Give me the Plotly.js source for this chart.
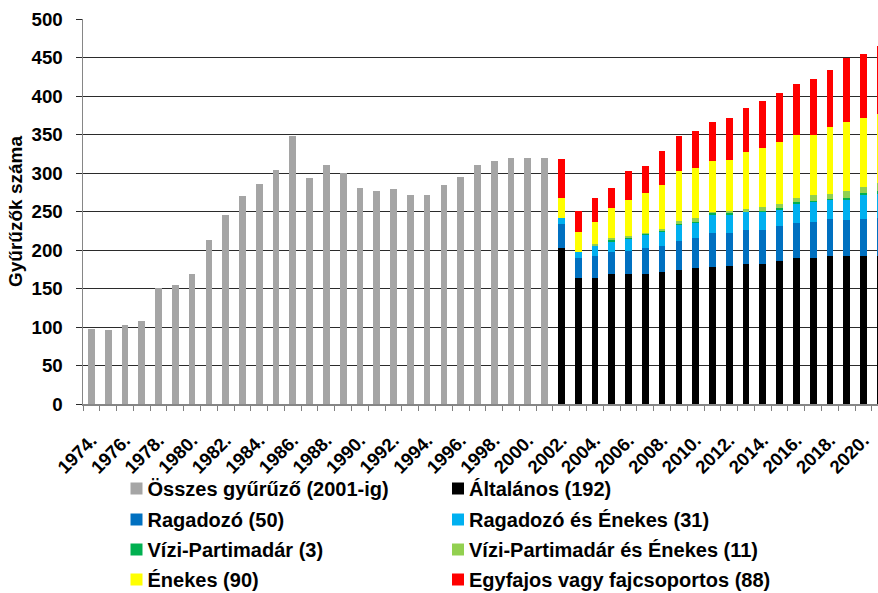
<!DOCTYPE html>
<html>
<head>
<meta charset="utf-8">
<script src="https://cdn.plot.ly/plotly-3.0.1.min.js"></script>
<style>html,body{margin:0;padding:0;background:#fff;}#chart{width:878px;height:593px;}</style>
</head>
<body>
<div id="chart"></div>
<script>
// Grey series: total ringers up to 2001
const yearsTotal = [1974,1975,1976,1977,1978,1979,1980,1981,1982,1983,1984,1985,1986,1987,1988,1989,1990,1991,1992,1993,1994,1995,1996,1997,1998,1999,2000,2001];
const totalRingers = [97,96,102,108,151,154,169,213,246,270,286,304,348,293,311,300,281,277,279,271,271,284,295,311,316,319,319,319];

// Stacked categories 2002-2021
const yearsCat = [2002,2003,2004,2005,2006,2007,2008,2009,2010,2011,2012,2013,2014,2015,2016,2017,2018,2019,2020,2021];
const altalanos      = [202,164,164,169,169,169,172,174,176,178,179,182,182,186,189,190,192,192,192,192];
const ragadozo       = [32,25,28,29,30,34,33,38,39,44,43,44,44,45,46,47,48,47,48,50];
const ragadozoEnekes = [8,9,13,13,15,16,18,20,20,24,24,23,24,21,25,25,25,26,31,31];
const vizi           = [0,0,0,2,1,2,2,2,1,2,2,1,1,2,2,2,1,3,3,3];
const viziEnekes     = [0,0,3,2,3,1,2,4,6,2,3,3,5,6,5,7,7,8,8,11];
const enekes         = [26,25,29,39,47,52,57,64,65,66,66,74,77,80,83,79,87,90,89,90];
const egyfajos       = [50,28,30,26,37,35,44,46,47,50,54,57,60,64,65,72,74,83,84,88];

// Series names
const names = [
  'Összes gyűrűző (2001-ig)',
  'Általános (192)',
  'Ragadozó (50)',
  'Ragadozó és Énekes (31)',
  'Vízi-Partimadár (3)',
  'Vízi-Partimadár és Énekes (11)',
  'Énekes (90)',
  'Egyfajos vagy fajcsoportos (88)'
];

// Axis tick labels
const tickYears = [1974,1976,1978,1980,1982,1984,1986,1988,1990,1992,1994,1996,1998,2000,2002,2004,2006,2008,2010,2012,2014,2016,2018,2020];
const tickLabels = ['1974.','1976.','1978.','1980.','1982.','1984.','1986.','1988.','1990.','1992.','1994.','1996.','1998.','2000.','2002.','2004.','2006.','2008.','2010.','2012.','2014.','2016.','2018.','2020.'];

const colors = ['#A5A5A5','#000000','#0070C0','#00B0F0','#00B050','#92D050','#FFFF00','#FF0000'];
const stacked = [altalanos, ragadozo, ragadozoEnekes, vizi, viziEnekes, enekes, egyfajos];

// legend columns: even-index series in left column, odd-index in right column
const traces = [{
  type: 'bar', x: yearsTotal, y: totalRingers, name: names[0], legend: 'legend',
  marker: {color: colors[0], line: {width: 0}}
}];
stacked.forEach((vals, i) => {
  const idx = i + 1;
  traces.push({
    type: 'bar', x: yearsCat, y: vals, name: names[idx],
    legend: idx % 2 === 0 ? 'legend' : 'legend2',
    marker: {color: colors[idx], line: {width: 0}}
  });
});

const FONT = 'Liberation Sans, Arial, sans-serif';
const plotL = 83, plotB = 404, plotW = 878 - 83, plotH = 385;
const catPx = 16.785;
const legendFont = {family: FONT, size: 20, color: '#000', weight: 'bold'};
const legTop = 467;

const layout = {
  width: 878, height: 593,
  margin: {l: 83, r: 0, t: 19, b: 189, pad: 0},
  paper_bgcolor: '#ffffff', plot_bgcolor: '#ffffff',
  font: {family: FONT, size: 19, color: '#000000', weight: 'bold'},
  barmode: 'stack', bargap: 0.6,
  showlegend: true,
  xaxis: {
    type: 'linear',
    range: [1973.5, 1973.5 + plotW / catPx],
    tickmode: 'array', tickvals: tickYears, ticktext: tickLabels,
    tickangle: -45, ticks: '', ticklen: 5,
    ticklabelstandoff: 17,
    tickfont: {family: FONT, size: 18.5, color: '#000', weight: 'bold'},
    showgrid: false, zeroline: false,
    showline: true, linecolor: '#868686', linewidth: 1.5,
    minor: {tickmode: 'linear', tick0: 1973.5, dtick: 1, ticks: 'outside', ticklen: 5, tickcolor: '#7f7f7f', tickwidth: 1, showgrid: false},
    automargin: false,
    fixedrange: true
  },
  yaxis: {
    range: [0, 500], tickmode: 'linear', tick0: 0, dtick: 50,
    ticks: 'outside', ticklen: 6, tickcolor: '#2b2b2b', tickwidth: 1,
    showgrid: true, gridcolor: '#2b2b2b', gridwidth: 1,
    zeroline: false, showline: true, linecolor: '#868686', linewidth: 1.5,
    ticklabelstandoff: 9,
    tickfont: {family: FONT, size: 18.7, color: '#000', weight: 'bold'},
    title: {text: 'Gyűrűzők száma', standoff: 4, font: {family: FONT, size: 19, color: '#000', weight: 'bold'}},
    automargin: false,
    fixedrange: true
  },
  legend: {
    orientation: 'v',
    x: (107.5 - plotL) / plotW, y: (plotB - legTop) / plotH,
    xanchor: 'left', yanchor: 'top',
    traceorder: 'normal', tracegroupgap: 0,
    font: legendFont,
    bgcolor: 'rgba(0,0,0,0)', borderwidth: 0
  },
  legend2: {
    orientation: 'v',
    x: (429 - plotL) / plotW, y: (plotB - legTop) / plotH,
    xanchor: 'left', yanchor: 'top',
    traceorder: 'normal', tracegroupgap: 0,
    font: legendFont,
    bgcolor: 'rgba(0,0,0,0)', borderwidth: 0
  }
};

Plotly.newPlot('chart', traces, layout, {displayModeBar: false, staticPlot: true}).then(gd => {
  // place the legend squares right next to their labels, as in the original
  gd.querySelectorAll('g.legendsymbols').forEach(el => {
    const t = el.getAttribute('transform') || '';
    el.setAttribute('transform', t + ' translate(9,0)');
  });
  // open up the legend rows slightly to match the original row spacing
  const rowShift = [2, 4, 5, 6];
  gd.querySelectorAll('g.legend, g.legend2').forEach(leg => {
    if (leg.getAttribute('clip-path')) leg.removeAttribute('clip-path');
    leg.querySelectorAll('g.scrollbox').forEach(sb => sb.removeAttribute('clip-path'));
    leg.querySelectorAll('g.traces').forEach((tr, i) => {
      const t = tr.getAttribute('transform') || '';
      tr.setAttribute('transform', t + ' translate(0,' + (rowShift[i] || 0) + ')');
    });
  });
});
</script>
</body>
</html>
